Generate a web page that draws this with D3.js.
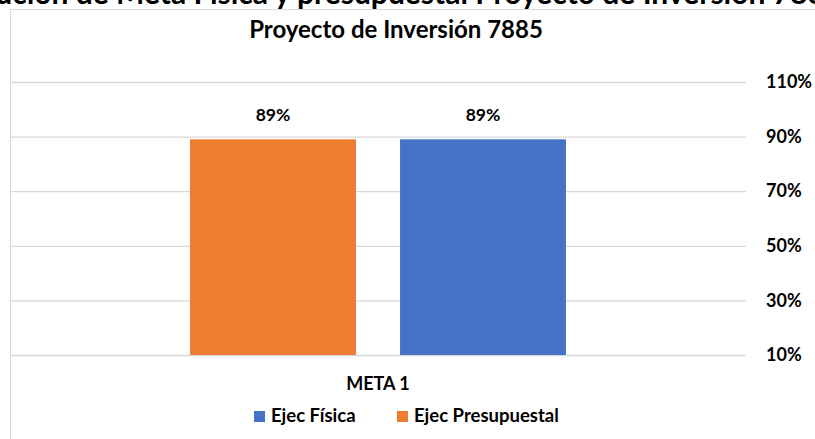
<!DOCTYPE html>
<html>
<head>
<meta charset="utf-8">
<script src="https://cdn.jsdelivr.net/npm/d3@7"></script>
<style>
  body { margin: 0; background: #fff; }
  svg { display: block; font-family: Lato, "Open Sans", sans-serif; }
</style>
</head>
<body>
<svg id="chart" width="815" height="439"></svg>
<script>
// data
const CATEGORIES = ['META 1'];
const SERIES = ['Ejec Presupuestal', 'Ejec Física'];
const EJEC_PRESUPUESTAL = [0.89];
const EJEC_FISICA = [0.89];
const Y_TICKS = [0.1, 0.3, 0.5, 0.7, 0.9, 1.1];
const LEGEND_ORDER = ['Ejec Física', 'Ejec Presupuestal'];

const COLORS = {'Ejec Presupuestal': '#ed7d31', 'Ejec Física': '#4472c4'};
const VALUES = {'Ejec Presupuestal': EJEC_PRESUPUESTAL, 'Ejec Física': EJEC_FISICA};

const SVG = d3.select('#chart');

// heading above the chart box, mostly cut off by the top edge
SVG.append('text')
    .attr('x', -60)
    .attr('y', 4)
    .attr('font-size', 30)
    .attr('font-weight', 'bold')
    .attr('fill', '#000')
    .text('Ejecución de Meta Física y presupuestal Proyecto de Inversión 7885');

// chart frame
SVG.append('rect')
    .attr('x', 10.5).attr('y', 9.5)
    .attr('width', 820).attr('height', 440)
    .attr('fill', '#fff')
    .attr('stroke', '#d9d9d9');

SVG.append('text')
    .attr('x', 396).attr('y', 38)
    .attr('text-anchor', 'middle')
    .attr('font-size', 24)
    .attr('font-weight', 'bold')
    .text('Proyecto de Inversión 7885');

const y = d3.scaleLinear().domain([0.1, 1.1]).range([355, 82]);
const x0 = d3.scaleBand().domain(CATEGORIES).range([10, 746]).paddingInner(0).paddingOuter(0.479);
const x1 = d3.scaleBand().domain(SERIES).range([0, x0.bandwidth()]).paddingInner(0.21).paddingOuter(0);

// gridlines + right labels
const yAxis = SVG.append('g')
    .attr('transform', 'translate(746,0)')
    .call(d3.axisRight(y).tickValues(Y_TICKS).tickFormat(d3.format('.0%')).tickSize(-736).tickPadding(20));
yAxis.select('.domain').remove();
yAxis.selectAll('.tick line').attr('stroke', '#d9d9d9').attr('stroke-width', 1.3);
yAxis.selectAll('.tick text')
    .attr('font-size', 18).attr('font-weight', 'bold').attr('fill', '#000')
    .attr('font-family', 'Lato, sans-serif');

// bars
const groups = SVG.selectAll('.cat')
    .data(CATEGORIES)
    .enter()
    .append('g')
    .attr('class', 'cat')
    .attr('transform', d => `translate(${x0(d)},0)`);

groups.selectAll('rect')
    .data((d, i) => SERIES.map(s => ({s, v: VALUES[s][i]})))
    .enter()
    .append('rect')
    .attr('x', d => x1(d.s))
    .attr('y', d => y(d.v))
    .attr('width', x1.bandwidth())
    .attr('height', d => y(0.1) - y(d.v))
    .attr('fill', d => COLORS[d.s]);

groups.selectAll('.val')
    .data((d, i) => SERIES.map(s => ({s, v: VALUES[s][i]})))
    .enter()
    .append('text')
    .attr('class', 'val')
    .attr('x', d => x1(d.s) + x1.bandwidth() / 2)
    .attr('y', d => y(d.v) - 18)
    .attr('text-anchor', 'middle')
    .attr('font-size', 17.5)
    .attr('font-weight', 'bold')
    .text(d => d3.format('.0%')(d.v));

// category label
SVG.selectAll('.cat-label')
    .data(CATEGORIES)
    .enter()
    .append('text')
    .attr('class', 'cat-label')
    .attr('x', d => x0(d) + x0.bandwidth() / 2)
    .attr('y', 390)
    .attr('text-anchor', 'middle')
    .attr('font-size', 18)
    .attr('font-weight', 'bold')
    .text(d => d);

// legend
const LEGEND_X = [254, 397];
const legend = SVG.selectAll('.legend')
    .data(LEGEND_ORDER)
    .enter()
    .append('g')
    .attr('class', 'legend')
    .attr('transform', (d, i) => `translate(${LEGEND_X[i]},411)`);
legend.append('rect').attr('width', 11).attr('height', 11).attr('fill', d => COLORS[d]);
legend.append('text')
    .attr('x', 17).attr('y', 11)
    .attr('font-size', 18.5).attr('font-weight', 'bold')
    .text(d => d);
</script>
</body>
</html>
